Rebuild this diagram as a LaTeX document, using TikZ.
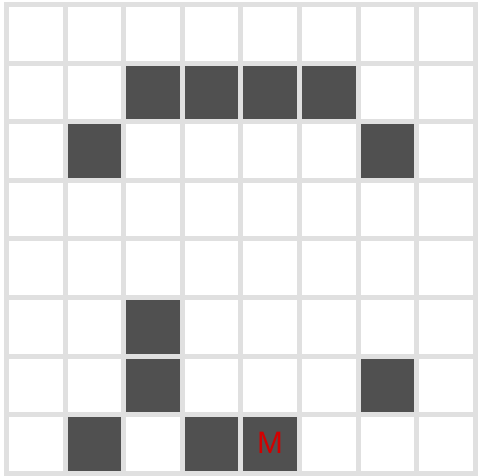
\documentclass[tikz,border=0pt]{standalone}
\usepackage{fontspec}
\setmainfont{Liberation Sans}
\definecolor{gridgray}{RGB}{224,224,224}
\definecolor{darkcell}{RGB}{80,80,80}
\definecolor{mred}{RGB}{210,0,0}
\begin{document}
\begin{tikzpicture}[x=1pt,y=-1pt,
  gridline/.style={draw=gridgray,line width=5pt,line cap=rect},
  filled/.style={fill=darkcell},
  marklabel/.style={text=mred,font=\fontsize{31}{31}\selectfont,inner sep=0pt}]
\useasboundingbox (0,0) rectangle (478,475);
\fill[white] (0,0) rectangle (478,475);
\def\ox{6.4}\def\oy{4.5}\def\p{58.6}
% filled cells (col,row)
\foreach \c/\r in {2/1,3/1,4/1,5/1,1/2,6/2,2/5,2/6,6/6,1/7,3/7,4/7}{
  \fill[filled] (\ox+\c*\p,\oy+\r*\p) rectangle (\ox+\c*\p+\p,\oy+\r*\p+\p);
}
% grid lines
\foreach \k in {0,...,8}{
  \draw[gridline] (\ox+\k*\p,\oy) -- (\ox+\k*\p,\oy+8*\p);
  \draw[gridline] (\ox,\oy+\k*\p) -- (\ox+8*\p,\oy+\k*\p);
}
\node[marklabel] (m) at (\ox+4.5*\p,\oy+7.5*\p-1) {M};
\end{tikzpicture}
\end{document}
